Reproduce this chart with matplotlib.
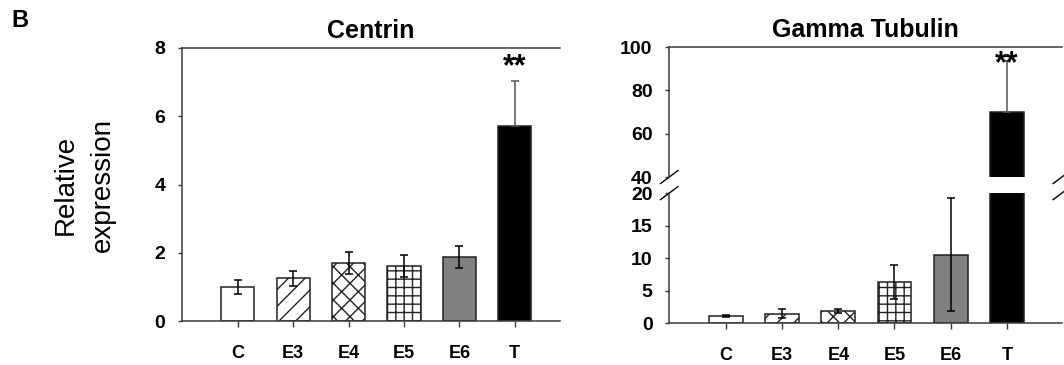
import matplotlib
matplotlib.use("Agg")
import matplotlib.pyplot as plt

# data
groups = ["C", "E3", "E4", "E5", "E6", "T"]
centrin_mean = [1.0, 1.25, 1.70, 1.62, 1.87, 5.70]
centrin_err = [0.20, 0.21, 0.33, 0.32, 0.32, 1.33]
gamma_mean = [1.1, 1.45, 1.85, 6.3, 10.5, 70.0]
gamma_err = [0.12, 0.7, 0.35, 2.6, 8.7, 23.5]

fills = ["white", "white", "white", "white", "#808080", "black"]
hatches = [None, "//", "xx", "++", None, None]

NARROW = ["Liberation Sans Narrow", "Liberation Sans", "DejaVu Sans"]
SANS = ["Liberation Sans", "DejaVu Sans"]
AX_COL = "#3a3a3a"

plt.rcParams["hatch.linewidth"] = 1.0
plt.rcParams["hatch.color"] = "black"

fig = plt.figure(figsize=(10.64, 3.65), dpi=100)
fig.patch.set_facecolor("white")

x = list(range(len(groups)))


def draw_bars(ax, means, errs):
    for i in x:
        ax.bar(i, means[i], width=0.6, color=fills[i], hatch=hatches[i],
               edgecolor="#222222", linewidth=1.1, zorder=2)
        if fills[i] == "black":
            # lower half of the bar is hidden inside the black bar
            ax.errorbar(i, means[i], yerr=[[0], [errs[i]]], fmt="none",
                        ecolor="#555555", elinewidth=1.1, capsize=3.2,
                        capthick=1.1, zorder=3)
        else:
            ax.errorbar(i, means[i], yerr=errs[i], fmt="none", ecolor="black",
                        elinewidth=1.1, capsize=3.2, capthick=1.1, zorder=3)


def style(ax, xlabels=True):
    for s in ["left", "bottom", "top"]:
        ax.spines[s].set_color(AX_COL)
        ax.spines[s].set_linewidth(1.1)
    ax.spines["right"].set_visible(False)
    ax.tick_params(axis="y", length=3, width=1, color=AX_COL, pad=9)
    ax.tick_params(axis="x", length=4, width=1, color=AX_COL, pad=13)
    for t in ax.get_yticklabels():
        t.set_fontfamily(NARROW)
        t.set_fontweight("bold")
        t.set_fontsize(14)
    ax.set_xticks(x)
    if xlabels:
        ax.set_xticklabels(groups, fontfamily=NARROW, fontweight="bold", fontsize=13)
    else:
        ax.set_xticklabels([])
        ax.tick_params(axis="x", length=0)


# ---- Centrin ----
ax1 = fig.add_axes([0.171, 0.1205, 0.355, 0.748])
draw_bars(ax1, centrin_mean, centrin_err)
ax1.set_ylim(0, 8)
ax1.set_yticks([0, 2, 4, 6, 8])
ax1.set_xlim(-1.01, 5.81)
style(ax1)
ax1.set_title("Centrin", fontsize=18, fontweight="bold", family=SANS, pad=7)
ax1.text(5, 7.45, "**", ha="center", va="center", fontsize=22,
         fontweight="bold", family=SANS)

# ---- Gamma Tubulin (broken axis) ----
ax_lo = fig.add_axes([0.629, 0.115, 0.369, 0.356])
ax_hi = fig.add_axes([0.629, 0.515, 0.369, 0.356])
draw_bars(ax_lo, gamma_mean, gamma_err)
draw_bars(ax_hi, gamma_mean, gamma_err)
ax_lo.set_ylim(0, 20)
ax_lo.set_yticks([0, 5, 10, 15, 20])
ax_hi.set_ylim(40, 100)
ax_hi.set_yticks([40, 60, 80, 100])
for a in (ax_lo, ax_hi):
    a.set_xlim(-1.01, 5.98)
style(ax_lo)
style(ax_hi, xlabels=False)
ax_lo.spines["top"].set_visible(False)
ax_hi.spines["bottom"].set_visible(False)
ax_hi.set_title("Gamma Tubulin", fontsize=18, fontweight="bold", family=SANS, pad=7)
ax_hi.text(5, 92, "**", ha="center", va="center", fontsize=22,
           fontweight="bold", family=SANS)

# break marks
dx, dy = 0.022, 0.05
kw = dict(color="black", linewidth=1.0, clip_on=False)
for xp in (0.0, 1.0):
    ax_hi.plot([xp - dx, xp + dx], [-dy, dy], transform=ax_hi.transAxes, **kw)
    ax_lo.plot([xp - dx, xp + dx], [1 - dy, 1 + dy], transform=ax_lo.transAxes, **kw)

# shared labels
fig.text(0.079, 0.493, "Relative\nexpression", rotation=90, ha="center",
         va="center", fontsize=20, family=SANS, linespacing=1.55)
fig.text(0.019, 0.945, "B", ha="center", va="center", fontsize=17,
         fontweight="bold", family=SANS)

fig.savefig("out.png", dpi=100, facecolor="white")
